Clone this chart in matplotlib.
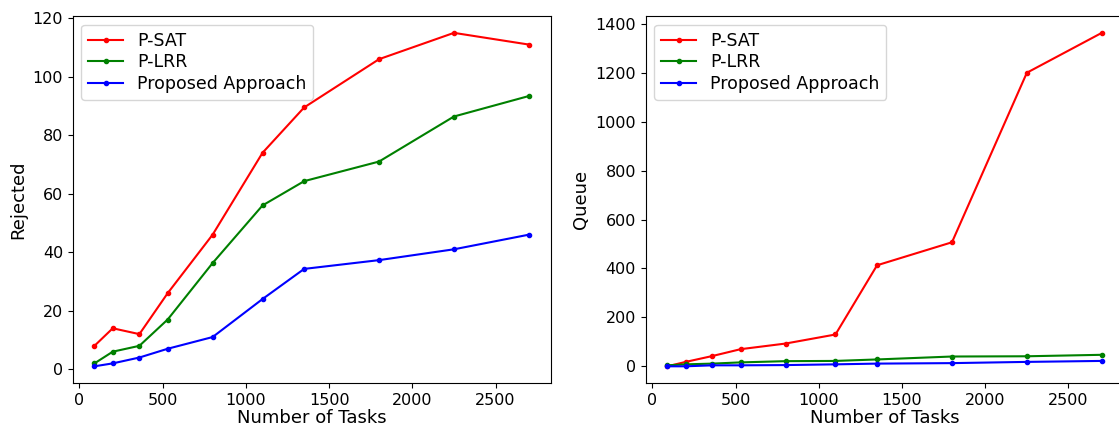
import numpy as np
import matplotlib
matplotlib.use('Agg')
import matplotlib.pyplot as plt

# number of tasks (x axis, shared by both panels)
tasks = [90, 200, 360, 530, 800, 1100, 1350, 1800, 2250, 2700]

# rejected tasks
rej_psat = [8, 14, 12, 26, 46, 74, 89.5, 106, 115, 111]
rej_plrr = [2, 6, 8, 17, 36.3, 56, 64.3, 71, 86.4, 93.4]
rej_prop = [1, 2, 4, 7, 11, 24, 34.3, 37.3, 41, 46]

# queue length
q_psat = [0, 18, 42, 70, 93, 130, 413, 507, 1200, 1363]
q_plrr = [4, 8, 11, 16, 21, 22, 28, 40, 41, 47]
q_prop = [0, 0, 4, 4, 5, 8, 11, 13, 18, 22]

labels = ['P-SAT', 'P-LRR', 'Proposed Approach']
colors = ['red', 'green', 'blue']

fig = plt.figure(figsize=(11.19, 4.26), dpi=100)
ax1 = fig.add_axes([0.065, 0.101, 0.427, 0.861])
ax2 = fig.add_axes([0.577, 0.101, 0.427, 0.861])

for ax, series, ylab in [(ax1, [rej_psat, rej_plrr, rej_prop], 'Rejected'),
                         (ax2, [q_psat, q_plrr, q_prop], 'Queue')]:
    for ys, lab, c in zip(series, labels, colors):
        ax.plot(tasks, ys, marker='.', markersize=6, color=c, label=lab)
    ax.set_xlabel('Number of Tasks', fontsize=13, labelpad=1)
    ax.set_ylabel(ylab, fontsize=13)
    ax.tick_params(labelsize=11.5)
    ax.set_xticks([0, 500, 1000, 1500, 2000, 2500])
    ax.legend(loc='upper left', fontsize=12.5, labelspacing=0.2)

fig.savefig('out.png', dpi=100)
